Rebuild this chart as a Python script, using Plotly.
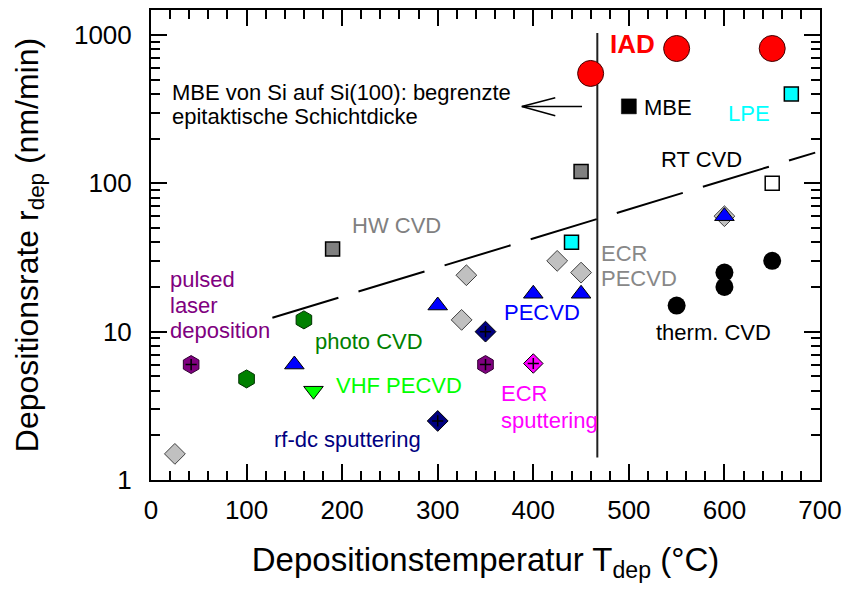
import math
import plotly.graph_objects as go

# ---- data: deposition temperature (°C) and deposition rate (nm/min) ----
iad_T = [460, 550, 650]
iad_r = [550, 810, 810]

therm_cvd_T = [550, 600, 600, 650]
therm_cvd_r = [15, 25, 20, 30]

mbe_T = [500]
mbe_r = [330]

lpe_T = [670, 440]
lpe_r = [400, 40]

rt_cvd_T = [650]
rt_cvd_r = [100]

hw_cvd_T = [190, 450]
hw_cvd_r = [36, 120]

ecr_pecvd_T = [25, 330, 325, 425, 450, 600]
ecr_pecvd_r = [1.5, 24, 12, 30, 25, 60]

pecvd_T = [150, 300, 400, 450, 600]
pecvd_r = [6, 15, 18, 18, 60]

rfdc_sputter_T = [300, 350]
rfdc_sputter_r = [2.5, 10]

pld_T = [42, 350]
pld_r = [6, 6]

ecr_sputter_T = [400]
ecr_sputter_r = [6.1]

photo_cvd_T = [100, 160]
photo_cvd_r = [4.8, 12]

vhf_pecvd_T = [170]
vhf_pecvd_r = [4]

# guide lines
limit_T = [467, 467]
limit_r = [1.42, 1030]
trend_T = [127, 695]
trend_r = [12.4, 161]

x_ticks = [0, 100, 200, 300, 400, 500, 600, 700]
y_ticks = [1, 10, 100, 1000]
y_ticktext = ["1", "10", "100", "1000"]

FONT = "Arial, Liberation Sans, sans-serif"

fig = go.Figure()


def add_points(x, y, symbol, size, color, line_color="black", line_width=1.0):
    fig.add_trace(go.Scatter(
        x=x, y=y, mode="markers", showlegend=False, hoverinfo="skip",
        marker=dict(symbol=symbol, size=size, color=color,
                    line=dict(color=line_color, width=line_width)),
    ))


def add_cross(x, y):
    fig.add_trace(go.Scatter(
        x=x, y=y, mode="markers", showlegend=False, hoverinfo="skip",
        marker=dict(symbol="cross-thin", size=8, color="black",
                    line=dict(color="black", width=1.5)),
    ))


# reference lines
fig.add_trace(go.Scatter(x=limit_T, y=limit_r, mode="lines", showlegend=False,
                         hoverinfo="skip", line=dict(color="#202020", width=2)))
fig.add_trace(go.Scatter(x=trend_T, y=trend_r, mode="lines", showlegend=False,
                         hoverinfo="skip",
                         line=dict(color="black", width=2, dash="69px,21px")))

# arrow pointing from the limit line towards the MBE note
arrow_x = [451, 388, None, 423, 388, 423]
arrow_y = [329, 329, None, 377, 329, 285]
fig.add_trace(go.Scatter(x=arrow_x, y=arrow_y, mode="lines", showlegend=False,
                         hoverinfo="skip", line=dict(color="black", width=1.5)))

# markers
add_points(ecr_pecvd_T, ecr_pecvd_r, "diamond", 16, "#c0c0c0", "#404040", 1)
add_points(hw_cvd_T, hw_cvd_r, "square", 14, "#808080", "black", 1.5)
add_points(lpe_T, lpe_r, "square", 14, "#00ffff", "black", 1.5)
add_points(rt_cvd_T, rt_cvd_r, "square", 14, "white", "black", 1.5)
add_points(mbe_T, mbe_r, "square", 15, "black", "black", 0.5)
add_points(pecvd_T, pecvd_r, "triangle-up", 17, "#0000ff", "black", 1)
add_points(vhf_pecvd_T, vhf_pecvd_r, "triangle-down", 17, "#00ff00", "black", 1)
add_points(photo_cvd_T, photo_cvd_r, "hexagon", 18, "#008000", "#003000", 1)
add_points(pld_T, pld_r, "hexagon", 18, "#800080", "#300030", 1)
add_cross(pld_T, pld_r)
add_points(rfdc_sputter_T, rfdc_sputter_r, "diamond", 16, "#000080", "black", 1)
add_cross(rfdc_sputter_T, rfdc_sputter_r)
add_points(ecr_sputter_T, ecr_sputter_r, "diamond", 15, "#ff00ff", "black", 1)
add_cross(ecr_sputter_T, ecr_sputter_r)
add_points(therm_cvd_T, therm_cvd_r, "circle", 18, "black", "black", 0)
add_points(iad_T, iad_r, "circle", 26, "#ff0000", "#400000", 1)

# text labels: (text, x, log10 y, colour, size, bold)
labels = [
    ("MBE von Si auf Si(100): begrenzte", 19.7, 2.613, "black", 22, False),
    ("epitaktische Schichtdicke", 19.7, 2.448, "black", 22, False),
    ("IAD", 477.7, 2.939, "#ff0000", 26, True),
    ("MBE", 514, 2.514, "black", 22, False),
    ("LPE", 601.2, 2.473, "#00ffff", 22, False),
    ("RT CVD", 532, 2.157, "black", 22, False),
    ("HW CVD", 208.4, 1.713, "#808080", 22, False),
    ("ECR", 469, 1.529, "#888888", 22, False),
    ("PECVD", 469, 1.360, "#888888", 22, False),
    ("pulsed", 18, 1.353, "#800080", 22, False),
    ("laser", 18, 1.179, "#800080", 22, False),
    ("deposition", 18, 1.011, "#800080", 22, False),
    ("photo CVD", 169.3, 0.933, "#008000", 22, False),
    ("VHF PECVD", 191, 0.634, "#00ff00", 22, False),
    ("rf-dc sputtering", 127, 0.271, "#000080", 22, False),
    ("PECVD", 367, 1.128, "#0000ff", 22, False),
    ("ECR", 364, 0.582, "#ff00ff", 22, False),
    ("sputtering", 364, 0.403, "#ff00ff", 22, False),
    ("therm. CVD", 525.8, 0.991, "black", 22, False),
]
annotations = []
for text, x, ly, color, size, bold in labels:
    annotations.append(dict(
        x=x, y=ly, xref="x", yref="y", xanchor="left", yanchor="middle",
        text=f"<b>{text}</b>" if bold else text, showarrow=False,
        font=dict(family=FONT, size=size, color=color),
    ))

y_minor = [m * 10 ** k for k in range(0, 3) for m in range(2, 10)]

fig.update_layout(
    width=850, height=591,
    margin=dict(l=151, r=25, t=8, b=111),
    paper_bgcolor="white", plot_bgcolor="white",
    font=dict(family=FONT, color="black"),
    annotations=annotations,
    xaxis=dict(
        range=[0, 700], tickvals=x_ticks, showgrid=False, zeroline=False,
        showline=True, linewidth=2, linecolor="black", mirror="allticks",
        ticks="inside", ticklen=16, tickwidth=2, tickcolor="black",
        tickfont=dict(size=26, family=FONT), ticklabelstandoff=6,
        minor=dict(dtick=20, ticks="inside", ticklen=9, tickwidth=2,
                   tickcolor="black", showgrid=False),
        title=dict(text="Depositionstemperatur T<sub>dep</sub> (°C)",
                   font=dict(size=33, family=FONT), standoff=24),
    ),
    yaxis=dict(
        type="log", range=[0, 3.168], tickvals=y_ticks, ticktext=y_ticktext,
        showgrid=False, zeroline=False,
        showline=True, linewidth=2, linecolor="black", mirror="allticks",
        ticks="inside", ticklen=16, tickwidth=2, tickcolor="black",
        tickfont=dict(size=26, family=FONT), ticklabelstandoff=12,
        minor=dict(tickvals=y_minor, ticks="inside", ticklen=9, tickwidth=2,
                   tickcolor="black", showgrid=False),
        title=dict(text="Depositionsrate r<sub>dep</sub> (nm/min)",
                   font=dict(size=32, family=FONT), standoff=26),
    ),
)

fig.write_html("out.html")
